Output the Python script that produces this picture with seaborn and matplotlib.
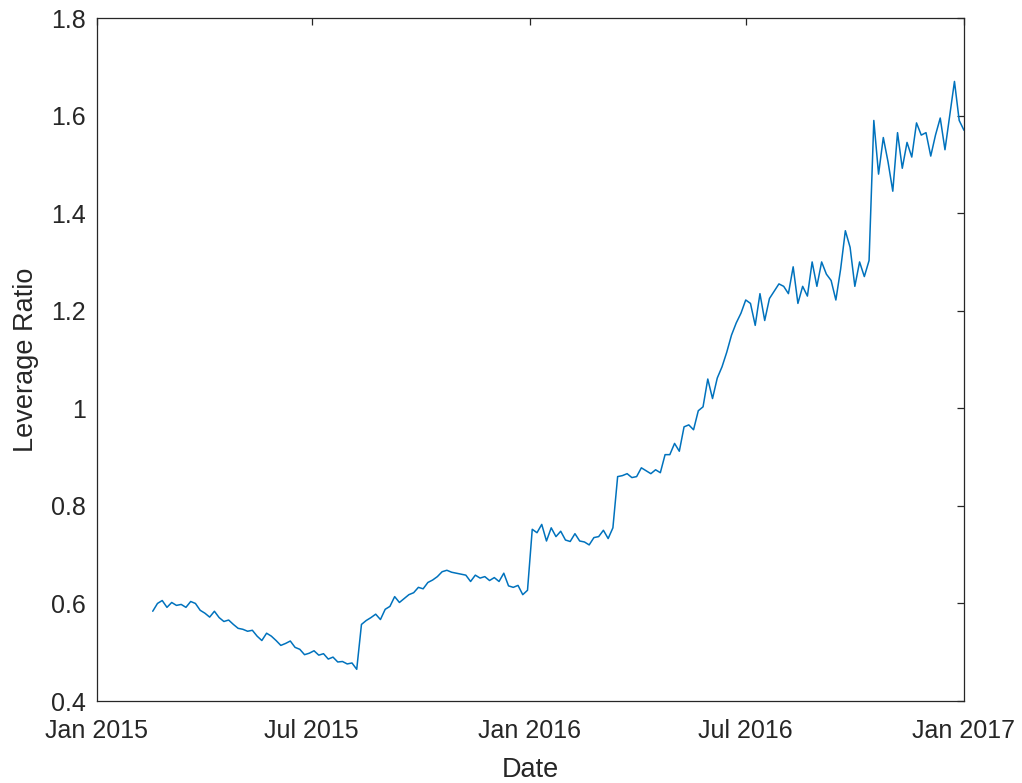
import numpy as np
import pandas as pd
import matplotlib
matplotlib.use("Agg")
import matplotlib.pyplot as plt
import matplotlib.dates as mdates
from matplotlib.ticker import FuncFormatter
import seaborn as sns

# Observation dates: every 4 days from 2015-02-17 to 2017-01-01
start_date = "2015-02-17"
step = "4D"

leverage_ratio = [
    0.584, 0.600, 0.606, 0.592, 0.602, 0.596, 0.598, 0.592, 0.604, 0.600,
    0.586, 0.580, 0.572, 0.584, 0.571, 0.563, 0.566, 0.557, 0.549, 0.547,
    0.543, 0.545, 0.533, 0.524, 0.539, 0.533, 0.524, 0.514, 0.518, 0.523,
    0.510, 0.506, 0.495, 0.498, 0.503, 0.494, 0.497, 0.486, 0.490, 0.480,
    0.481, 0.476, 0.478, 0.465, 0.557, 0.565, 0.571, 0.578, 0.567, 0.588,
    0.594, 0.614, 0.602, 0.610, 0.618, 0.622, 0.633, 0.630, 0.643, 0.648,
    0.655, 0.665, 0.668, 0.664, 0.662, 0.660, 0.658, 0.645, 0.658, 0.652,
    0.655, 0.647, 0.653, 0.645, 0.662, 0.636, 0.633, 0.637, 0.618, 0.627,
    0.752, 0.745, 0.762, 0.728, 0.755, 0.737, 0.748, 0.730, 0.727, 0.743,
    0.728, 0.726, 0.720, 0.735, 0.737, 0.750, 0.733, 0.755, 0.860, 0.862,
    0.866, 0.858, 0.860, 0.878, 0.872, 0.866, 0.874, 0.868, 0.905, 0.905,
    0.928, 0.912, 0.962, 0.966, 0.956, 0.995, 1.003, 1.060, 1.020, 1.062,
    1.085, 1.115, 1.150, 1.175, 1.195, 1.222, 1.215, 1.170, 1.235, 1.180,
    1.225, 1.240, 1.255, 1.250, 1.235, 1.290, 1.215, 1.250, 1.230, 1.300,
    1.250, 1.300, 1.275, 1.262, 1.222, 1.285, 1.364, 1.330, 1.250, 1.300,
    1.270, 1.303, 1.590, 1.480, 1.555, 1.505, 1.445, 1.565, 1.492, 1.545,
    1.515, 1.585, 1.560, 1.565, 1.517, 1.560, 1.595, 1.530, 1.600, 1.670,
    1.590, 1.570,
]

x_ticks = ["2015-01-01", "2015-07-01", "2016-01-01", "2016-07-01", "2017-01-01"]
y_ticks = [0.4, 0.6, 0.8, 1.0, 1.2, 1.4, 1.6, 1.8]

dates = pd.date_range(start=start_date, periods=len(leverage_ratio), freq=step)
df = pd.DataFrame({"Date": dates, "Leverage Ratio": leverage_ratio})

sns.set_style("white")
plt.rcParams["font.family"] = ["Liberation Sans", "DejaVu Sans"]

text_color = "#262626"
fig = plt.figure(figsize=(10.22, 7.83), dpi=100)
ax = fig.add_axes([0.0949, 0.1047, 0.8483, 0.8723])

sns.lineplot(data=df, x="Date", y="Leverage Ratio", ax=ax,
             color="#0072BD", linewidth=1.1)

ax.set_xlim(pd.Timestamp("2015-01-01"), pd.Timestamp("2017-01-01"))
ax.set_ylim(0.4, 1.8)
ax.set_xticks(pd.to_datetime(x_ticks))
ax.xaxis.set_major_formatter(mdates.DateFormatter("%b %Y"))
ax.set_yticks(y_ticks)
ax.yaxis.set_major_formatter(FuncFormatter(lambda v, p: f"{v:g}"))

ax.tick_params(direction="in", top=True, right=True, length=5, width=0.9,
               colors=text_color, labelsize=18)
ax.tick_params(axis="x", pad=13)
ax.tick_params(axis="y", pad=8)
for s in ax.spines.values():
    s.set_color(text_color)
    s.set_linewidth(0.9)

ax.set_xlabel("Date", fontsize=19.5, color=text_color, labelpad=10)
ax.set_ylabel("Leverage Ratio", fontsize=19.5, color=text_color, labelpad=9)

fig.savefig("out.png", dpi=100)
